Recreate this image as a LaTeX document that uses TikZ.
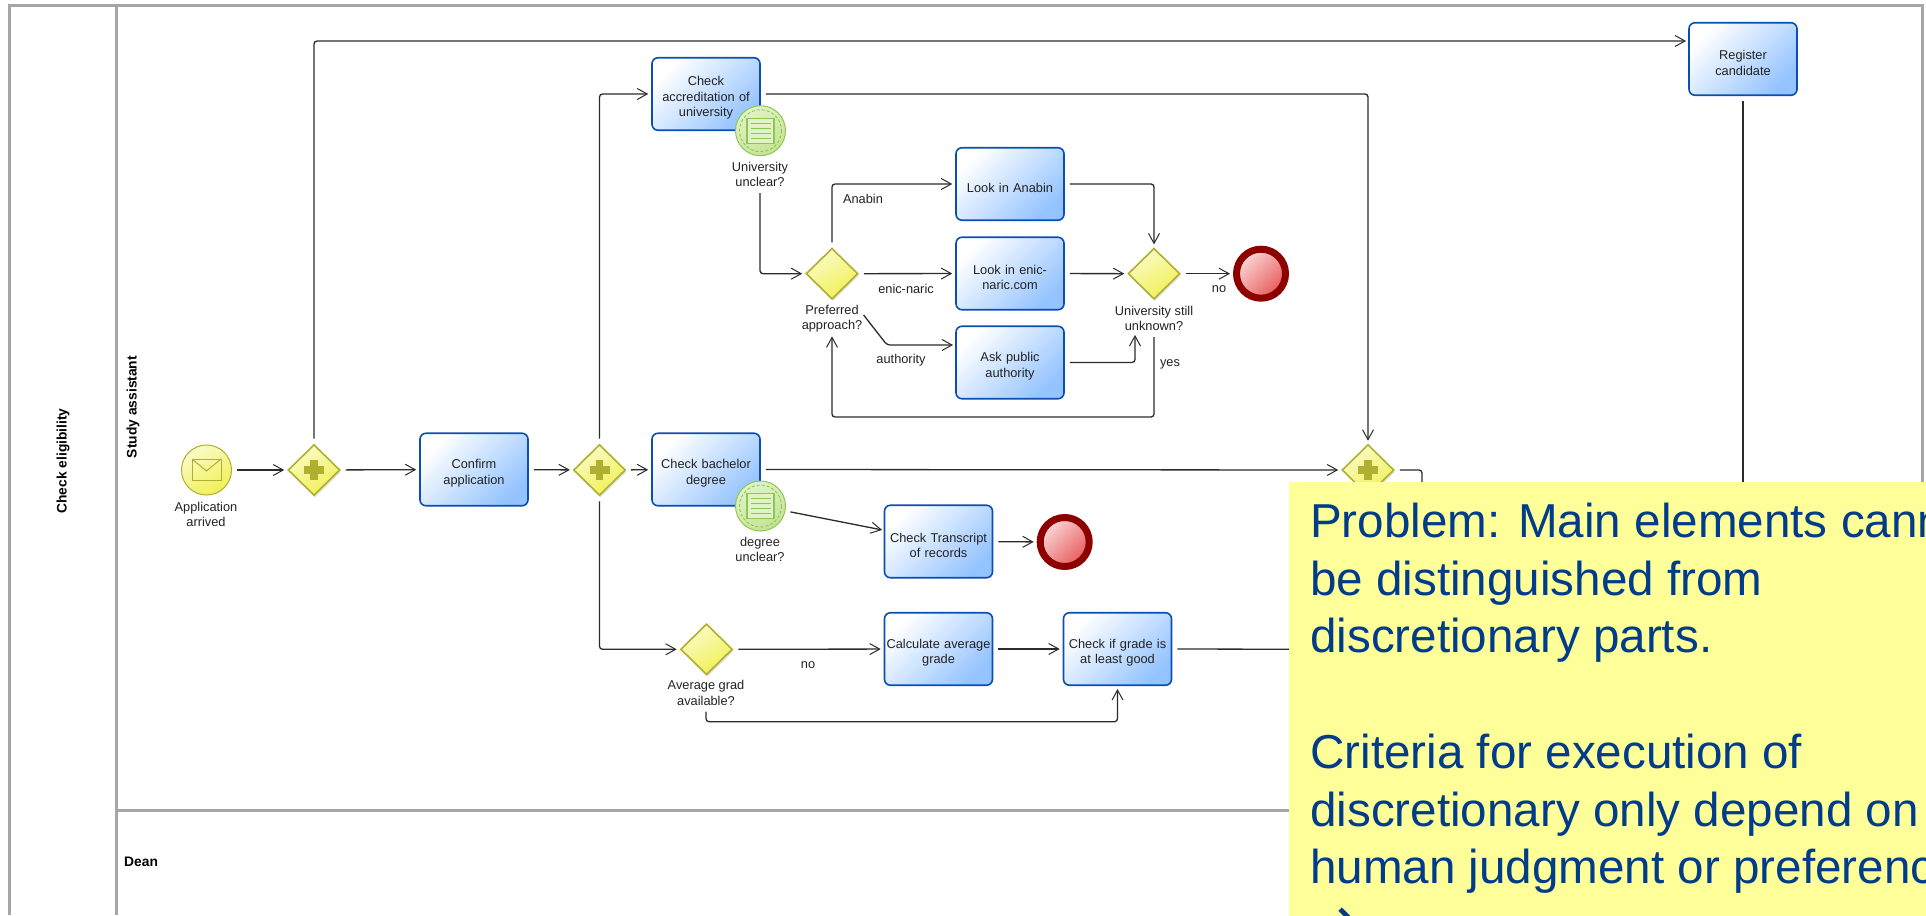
\documentclass[tikz,border=0pt]{standalone}
\usepackage{fontspec}
\setmainfont{Liberation Sans}
\newfontfamily\arrowfont{DejaVu Sans}
\usetikzlibrary{arrows.meta, positioning, shapes.geometric, calc, shadows}
\definecolor{bpgray}{HTML}{A6A6A6}
\definecolor{bpline}{HTML}{2B2B2B}
\definecolor{bptext}{HTML}{222222}
\definecolor{bpblue}{HTML}{0A4FB0}
\definecolor{bpbluefill}{HTML}{94C3FF}
\definecolor{bpolive}{HTML}{B0B030}
\definecolor{bpyellow}{HTML}{F0F055}
\definecolor{bpyellowtop}{HTML}{FBFBC8}
\definecolor{bpgreen}{HTML}{8CC850}
\definecolor{bpgreenfill}{HTML}{C4E394}
\definecolor{bpgreentop}{HTML}{E2F2C8}
\definecolor{bpdarkred}{HTML}{8C0000}
\definecolor{bpred}{HTML}{E85A5A}
\definecolor{bpredtop}{HTML}{FAD8D8}
\definecolor{bpnote}{HTML}{FFFF99}
\definecolor{bpnotetext}{HTML}{003C8A}

\newcommand{\gateplus}[1]{
  \begin{scope}[shift={(#1)}]
    \fill[bpolive] (-10,-3.7) rectangle (10,3.7);
    \fill[bpolive] (-3.7,-10) rectangle (3.7,10);
  \end{scope}
}
\newcommand{\docicon}[1]{
  \begin{scope}[shift={(#1)}]
    \draw[bpgreen, densely dashed, line width=0.9pt] (0,0) circle (21);
    \draw[bpgreen, line width=1.3pt, fill=bpgreentop] (-13.5,-12.5) rectangle (13.5,12.5);
    \foreach \yy in {-7.5,-2.5,2.5,7.5}
      \draw[bpgreen, line width=1.2pt] (-10,\yy) -- (10,\yy);
  \end{scope}
}
\newcommand{\envelope}[1]{
  \begin{scope}[shift={(#1)}]
    \draw[bpolive, line width=1pt] (-14.5,-11) rectangle (14.5,10.5);
    \draw[bpolive, line width=1pt] (-14.5,-11) -- (0,1) -- (14.5,-11);
  \end{scope}
}

\begin{document}
\begin{tikzpicture}[
  x=1pt, y=-1pt,
  every node/.style={font=\fontsize{12.8}{15.5}\selectfont, text=bptext},
  lane/.style={draw=bpgray, line width=3pt},
  lanetitle/.style={font=\fontsize{13.8}{16}\selectfont\bfseries, text=black},
  task/.style={rectangle, rounded corners=6pt, draw=bpblue, line width=1.6pt, minimum width=108pt, minimum height=72.5pt, text width=106pt, align=center, inner sep=1pt, top color=white, bottom color=bpbluefill, shading angle=45, execute at begin node={\rule{0pt}{17pt}}},
  gate/.style={diamond, draw=bpolive, line width=1.6pt, minimum width=52pt, minimum height=51pt, inner sep=0pt, top color=bpyellowtop, bottom color=bpyellow, shading angle=30, drop shadow={shadow xshift=1pt, shadow yshift=-2pt, opacity=0.25}},
  evstart/.style={circle, draw=bpolive, line width=1pt, minimum size=50pt, inner sep=0pt, top color=bpyellowtop, bottom color=bpyellow, shading angle=30},
  evdoc/.style={circle, draw=bpgreen, line width=1pt, minimum size=50pt, inner sep=0pt, top color=bpgreentop, bottom color=bpgreenfill, shading angle=30},
  evend/.style={circle, draw=bpdarkred, line width=7pt, minimum size=49pt, inner sep=0pt, top color=bpredtop, bottom color=bpred, shading angle=45},
  lbl/.style={align=center, inner sep=1pt},
  flow/.style={draw=bpline, line width=1.3pt, rounded corners=3pt, shorten <=5pt, shorten >=3pt, -{Straight Barb[length=10pt, width=11pt, line width=1pt]}},
  flowcut/.style={draw=bpline, line width=1.3pt, rounded corners=3pt, shorten <=5pt},
  note/.style={rectangle, fill=bpnote, anchor=north west, align=left, minimum width=700pt, minimum height=450pt, inner xsep=21pt, inner ysep=21.5pt, font=\fontsize{47.6}{57.7}\selectfont, text=bpnotetext},
]
\useasboundingbox (0,0) rectangle (1926,915);

% Pool and lanes
\draw[lane] (9.5,915) -- (9.5,5.7) -- (1922,5.7) -- (1922,915);
\draw[lane] (116.5,5.7) -- (116.5,915);
\draw[lane] (116.5,810.7) -- (1922,810.7);
\node[lanetitle, rotate=90] (pooltitle) at (63,461) {Check eligibility};
\node[lanetitle, rotate=90] (studytitle) at (133,407) {Study assistant};
\node[lanetitle, anchor=west, inner sep=0pt] (deantitle) at (124,862) {Dean};

% Tasks
\node[task] (confirm) at (474,469.5) {Confirm\\application};
\node[task] (accred) at (706,94) {Check\\accreditation of\\university};
\node[task] (bach) at (706,469.5) {Check bachelor\\degree};
\node[task] (anabin) at (1010,184) {Look in Anabin};
\node[task] (enic) at (1010,273.5) {Look in enic-\\naric.com};
\node[task] (ask) at (1010,362.5) {Ask public\\authority};
\node[task] (transcript) at (938.5,541.5) {Check Transcript\\of records};
\node[task] (average) at (938.5,649) {Calculate average\\grade};
\node[task] (good) at (1117.5,649) {Check if grade is\\at least good};
\node[task] (register) at (1743,59) {Register\\candidate};

% Gateways
\node[gate] (gwstart) at (314,470) {};
\node[gate] (gwsplit) at (599.5,470) {};
\node[gate] (gwjoin) at (1368,470) {};
\node[gate] (gwpref) at (832,273.7) {};
\node[gate] (gwunknown) at (1154,273.7) {};
\node[gate] (gwavg) at (706.5,649.3) {};
\gateplus{gwstart}
\gateplus{gwsplit}
\gateplus{gwjoin}

% Events
\node[evstart] (arrived) at (206.5,470) {};
\envelope{arrived}
\node[evdoc] (evuni) at (760.5,130.7) {};
\docicon{evuni}
\node[evdoc] (evdegree) at (760.5,506) {};
\docicon{evdegree}
\node[evend] (enduni) at (1261,273.7) {};
\node[evend] (enddegree) at (1064.7,542) {};

% Labels
\node[lbl] (arrivedlbl) at (206,514.5) {Application\\arrived};
\node[lbl] (unilbl) at (760,174.5) {University\\unclear?};
\node[lbl] (preflbl) at (832,318.5) {Preferred\\approach?};
\node[lbl] (unknownlbl) at (1154,318.5) {University still\\unknown?};
\node[lbl] (degreelbl) at (760,549.5) {degree\\unclear?};
\node[lbl] (avglbl) at (706,693) {Average grad\\available?};
\node[lbl] (anabinlbl) at (863,199) {Anabin};
\node[lbl] (eniclbl) at (906,289) {enic-naric};
\node[lbl] (authlbl) at (901,360) {authority};
\node[lbl] (nolbl) at (1219,289) {no};
\node[lbl] (yeslbl) at (1170,364) {yes};
\node[lbl] (gradelbl) at (808,665) {no};

% Free ends of connectors
\coordinate (regin) at (1689,41);
\coordinate (regout) at (1743,520);
\coordinate (joinout) at (1422,520);
\coordinate (goodout) at (1320,649.3);
\coordinate (transin) at (885,530.5);
\coordinate (prefout) at (860.5,311);
\coordinate (prefbend) at (887,345);
\coordinate (askin) at (956,345);
\coordinate (unkin) at (1135,332);
\coordinate (loopright) at (1154,417);
\coordinate (loopleft) at (832,417);
\coordinate (avgright) at (1117.5,721.7);

% Connectors
\draw[flow] (arrived) -- (gwstart);
\draw[flow] (gwstart) -- (confirm);
\draw[flow] (confirm) -- (gwsplit);
\draw[flow] (gwsplit) -- (bach);
\draw[flow] (gwstart.north) |- (regin);
\draw[flow] (gwsplit.north) |- (accred.west);
\draw[flow] (gwsplit.south) |- (gwavg.west);
\draw[flow] (accred.east) -| (gwjoin.north);
\draw[flow] (bach.east) -- (gwjoin.west);
\draw[flow] (unilbl.south) |- (gwpref.west);
\draw[flow] (gwpref.north) |- (anabin.west);
\draw[flow] (gwpref) -- (enic);
\draw[flow] (prefout) -- (prefbend) -- (askin);
\draw[flow] (anabin.east) -| (gwunknown.north);
\draw[flow] (enic) -- (gwunknown);
\draw[flow] (ask.east) -| (unkin);
\draw[flow] (gwunknown) -- (enduni);
\draw[flow] (unknownlbl.south) -- (loopright) -- (loopleft) -- (preflbl.south);
\draw[flow] (evdegree) -- (transin);
\draw[flow] (transcript) -- (enddegree);
\draw[flow] (gwavg) -- (average);
\draw[flow] (average) -- (good);
\draw[flow] (avglbl.south) |- (avgright) -- (good.south);
\draw[flowcut] (register.south) -- (regout);
\draw[flowcut] (gwjoin.east) -| (joinout);
\draw[flowcut] (good.east) -- (goodout);

% Note on top
\node[note] (problem) at (1289,481.3) {Problem: Main elements cannot\\be distinguished from\\discretionary parts.\\~\\Criteria for execution of\\discretionary only depend on\\human judgment or preference\\\hspace*{-4pt}\smash{\raisebox{1.5pt}{\fontsize{60}{60}\arrowfont →}}};

\end{tikzpicture}
\end{document}
